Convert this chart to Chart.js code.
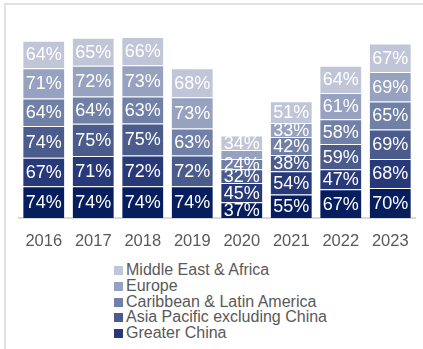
<!DOCTYPE html>
<html>
<head>
<meta charset="utf-8">
<script src="https://cdn.jsdelivr.net/npm/chart.js@4.4.1/dist/chart.umd.min.js"></script>
<style>
  body { margin: 0; background: #fff; font-family: "Liberation Sans", Arial, sans-serif; }
  #wrap { position: relative; width: 423px; height: 349px; overflow: hidden; }
  #frame { position: absolute; left: 4px; top: 3px; width: 440px; height: 370px; border: 2px solid #e2e2e2; box-sizing: border-box; }
  #box { position: absolute; left: 0; top: 0; width: 423px; height: 256px; }
  #legend { position: absolute; left: 114px; top: 262px; color: #595959; font-size: 16px; }
  #legend div { height: 15.8px; line-height: 15.8px; white-space: nowrap; }
  #legend span { display: inline-block; width: 9px; height: 9px; margin-right: 3px; vertical-align: 0px; }
</style>
</head>
<body>
<div id="wrap">
  <div id="frame"></div>
  <div id="box"><canvas id="barChart"></canvas></div>
  <div id="legend"></div>
</div>
<script>
// Share of each region, per year (%), stacked bottom to top
const years = ['2016', '2017', '2018', '2019', '2020', '2021', '2022', '2023'];
const northAmerica     = [74, 74, 74, 74, 37, 55, 67, 70];
const greaterChina     = [67, 71, 72, null, 45, 54, 47, 68];
const asiaPacific      = [74, 75, 75, 72, 32, 38, 59, 69];
const caribbeanLatAm   = [64, 64, 63, 63, 24, 42, 58, 65];
const europe           = [71, 72, 73, 73, 21, 33, 61, 69];
const middleEastAfrica = [64, 65, 66, 68, 34, 51, 64, 67];

const series = [
  { label: 'North America', data: northAmerica, color: '#061d5e', legend: false },
  { label: 'Greater China', data: greaterChina, color: '#28397a', legend: true },
  { label: 'Asia Pacific excluding China', data: asiaPacific, color: '#4a5b8c', legend: true },
  { label: 'Caribbean & Latin America', data: caribbeanLatAm, color: '#7180a6', legend: true },
  { label: 'Europe', data: europe, color: '#97a1c0', legend: true },
  { label: 'Middle East & Africa', data: middleEastAfrica, color: '#c0c6d8', legend: true }
];

// white percentage text in the middle of each segment
const segmentLabels = {
  id: 'segmentLabels',
  afterDatasetsDraw(chart) {
    const ctx = chart.ctx;
    ctx.save();
    ctx.font = '18px "Liberation Sans", Arial, sans-serif';
    ctx.fillStyle = '#ffffff';
    ctx.textAlign = 'center';
    ctx.textBaseline = 'middle';
    chart.data.datasets.forEach((ds, i) => {
      chart.getDatasetMeta(i).data.forEach((bar, j) => {
        const v = ds.data[j];
        if (v == null) return;
        const p = bar.getProps(['x', 'y', 'base'], true);
        if (Math.abs(p.base - p.y) < 10) return; // too thin for a label
        ctx.fillText(v + '%', p.x, (p.y + p.base) / 2 + 1);
      });
    });
    ctx.restore();
  }
};

const ctxBar = document.getElementById('barChart').getContext('2d');

const barChart = new Chart(ctxBar, {
  type: 'bar',
  data: {
    labels: years,
    datasets: series.map(s => ({
      label: s.label,
      data: s.data,
      backgroundColor: s.color,
      borderColor: 'rgba(255,255,255,0.18)',
      borderWidth: 1,
      categoryPercentage: 1,
      barPercentage: 0.864
    }))
  },
  options: {
    responsive: true,
    maintainAspectRatio: false,
    animation: false,
    layout: {
      padding: { left: 19, right: 6, top: 4, bottom: 0 }
    },
    plugins: {
      legend: { display: false },
      tooltip: { enabled: false }
    },
    scales: {
      x: {
        stacked: true,
        grid: { display: false, drawTicks: false },
        border: { display: true, color: '#d9d9d9', width: 2 },
        ticks: {
          color: '#595959',
          padding: 14,
          font: { family: '"Liberation Sans", Arial, sans-serif', size: 16.5 }
        },
        afterFit(scale) { scale.height = 38; }
      },
      y: {
        stacked: true,
        display: false,
        beginAtZero: true,
        max: 500
      }
    }
  },
  plugins: [segmentLabels]
});

// Legend, top entry first
const legendBox = document.getElementById('legend');
series.filter(s => s.legend).reverse().forEach(s => {
  const row = document.createElement('div');
  const sw = document.createElement('span');
  sw.style.background = s.color;
  row.appendChild(sw);
  row.appendChild(document.createTextNode(s.label));
  legendBox.appendChild(row);
});
</script>
</body>
</html>
